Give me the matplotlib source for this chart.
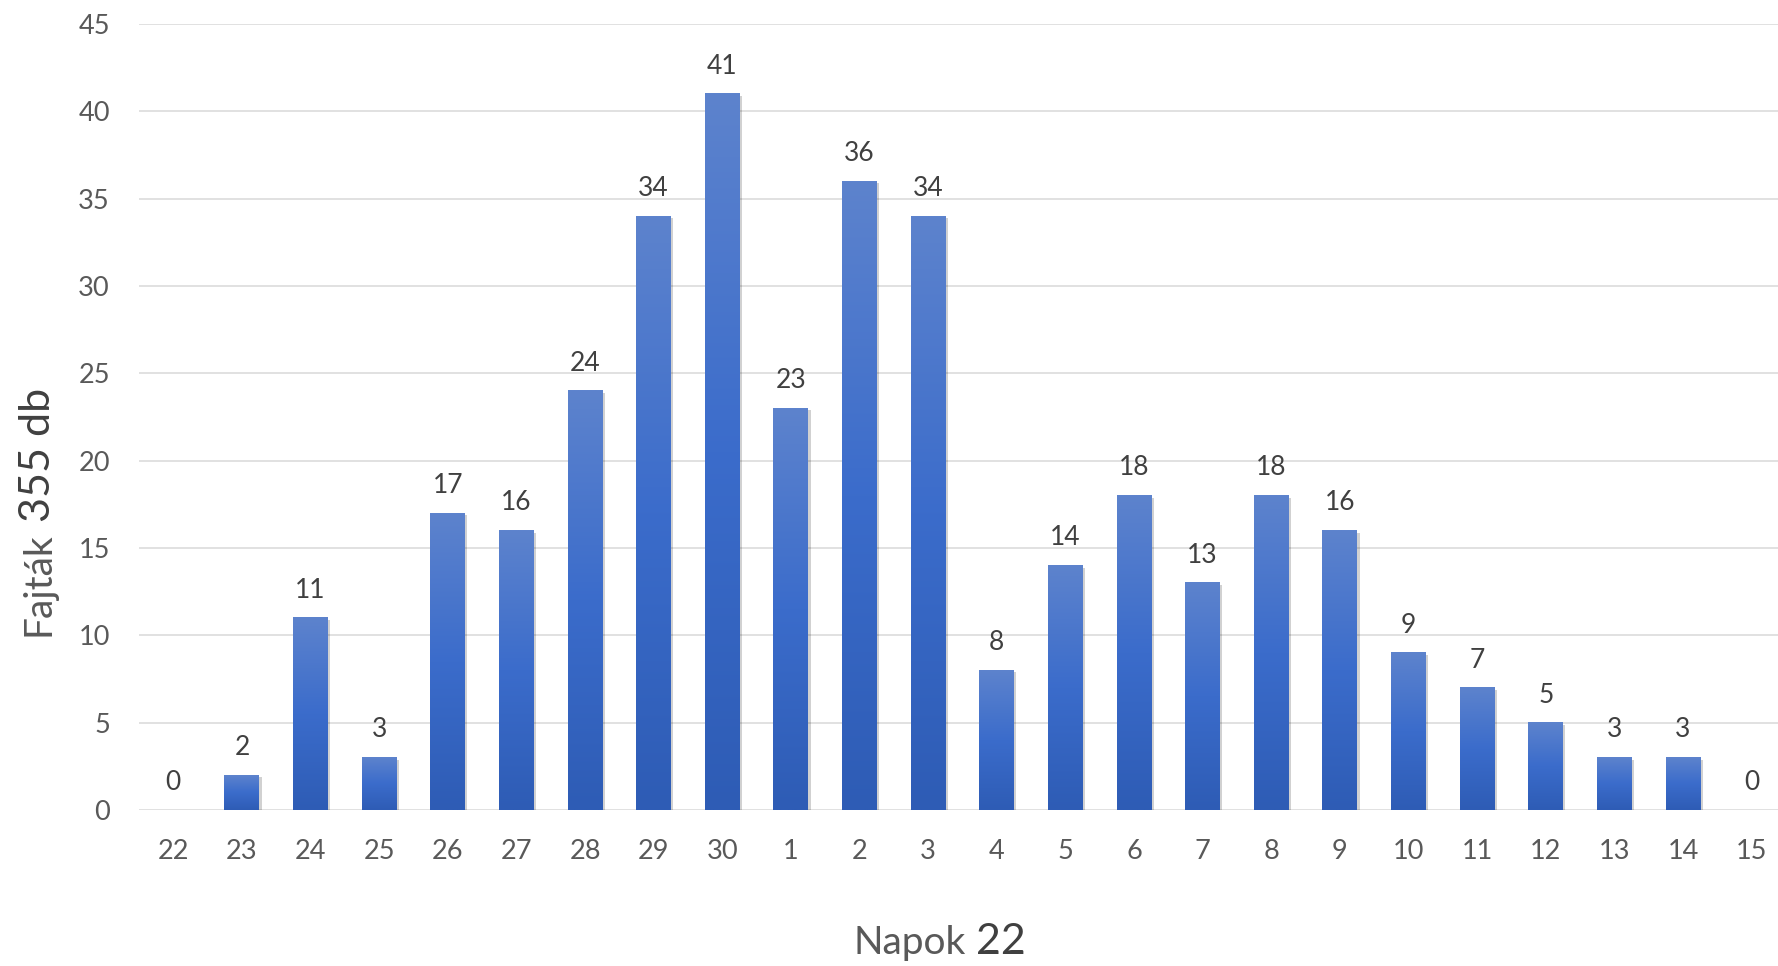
import matplotlib
matplotlib.use("Agg")
import matplotlib.pyplot as plt
import numpy as np
from matplotlib.colors import LinearSegmentedColormap
import matplotlib.patheffects as pe

days = ["22", "23", "24", "25", "26", "27", "28", "29", "30", "1", "2", "3",
        "4", "5", "6", "7", "8", "9", "10", "11", "12", "13", "14", "15"]
counts = [0, 2, 11, 3, 17, 16, 24, 34, 41, 23, 36, 34,
          8, 14, 18, 13, 18, 16, 9, 7, 5, 3, 3, 0]
yticks = [0, 5, 10, 15, 20, 25, 30, 35, 40, 45]
xlabel_parts = ["Napok", "22"]
ylabel_parts = ["Fajták", "355 db"]

plt.rcParams['font.family'] = ['Lato', 'DejaVu Sans']

W, H = 1778, 966
fig = plt.figure(figsize=(W / 100, H / 100), dpi=100)
ax = fig.add_axes([139 / W, 1 - 810 / H, (1786 - 139) / W, (810 - 24) / H])

x = np.arange(len(days))
bars = ax.bar(x, counts, width=0.51, color='#3a69c6', zorder=2)
cmap = LinearSegmentedColormap.from_list('g', ['#2e5cb5', '#3b6ccb', '#5d83cd'])
grad = np.linspace(0, 1, 256).reshape(-1, 1)
for b in bars:
    h = b.get_height()
    if h <= 0:
        continue
    x0 = b.get_x()
    w = b.get_width()
    b.set_path_effects([pe.SimplePatchShadow(offset=(1.5, -1.5), shadow_rgbFace='k', alpha=0.18),
                        pe.Normal()])
    ax.imshow(grad, extent=(x0, x0 + w, 0, h), origin='lower', cmap=cmap,
              aspect='auto', zorder=3, interpolation='bilinear')

for xi, v in zip(x, counts):
    ax.annotate(str(v), (xi, v), xytext=(0, 14.5), textcoords='offset points',
                ha='center', va='baseline', fontsize=19, color='#404040', zorder=5)

ax.set_xlim(-0.5, len(days) - 0.5)
ax.set_ylim(0, 45)
ax.set_yticks(yticks)
ax.set_xticks(x)
ax.set_xticklabels(days)
ax.yaxis.grid(True, color='#d9d9d9', lw=1.1)
ax.set_axisbelow(True)
for s in ax.spines.values():
    s.set_visible(False)
ax.tick_params(axis='x', length=0, pad=21, labelsize=19.5, labelcolor='#595959')
ax.tick_params(axis='y', length=0, pad=21, labelsize=19.5, labelcolor='#595959')

# axis titles with mixed styles
fig.canvas.draw()
r = fig.canvas.get_renderer()

# x label
t1 = fig.text(0, 1 - 954 / H, xlabel_parts[0], fontsize=28, color='#595959', ha='left', va='baseline')
t2 = fig.text(0, 1 - 954 / H, xlabel_parts[1], fontsize=31, color='#404040', ha='left', va='baseline')
w1 = t1.get_window_extent(r).width
w2 = t2.get_window_extent(r).width
gap = 10
start = 940 - (w1 + gap + w2) / 2
t1.set_x(start / W)
t2.set_x((start + w1 + gap) / W)

# y label (rotated)
bx = 50 / W
u1 = fig.text(bx, 0, ylabel_parts[0], fontsize=28, color='#595959', rotation=90,
              rotation_mode='anchor', ha='left', va='baseline')
u2 = fig.text(bx, 0, ylabel_parts[1], fontsize=31, color='#404040', rotation=90,
              rotation_mode='anchor', ha='left', va='baseline')
h1 = u1.get_window_extent(r).height
h2 = u2.get_window_extent(r).height
total = h1 + gap + h2
ybot = (H - 512) - total / 2
u1.set_y(ybot / H)
u2.set_y((ybot + h1 + gap) / H)

fig.savefig('out.png', dpi=100)
